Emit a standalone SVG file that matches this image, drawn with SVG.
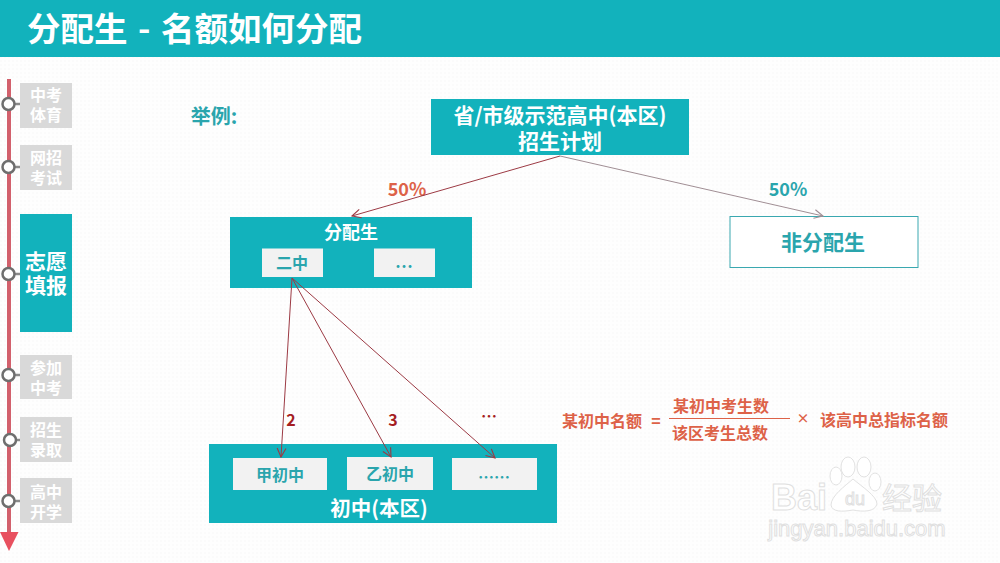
<svg xmlns="http://www.w3.org/2000/svg" width="1000" height="563" viewBox="0 0 1000 563">
<style>
text{font-family:"Noto Sans CJK SC","Liberation Sans",sans-serif;font-weight:700;text-anchor:middle}
.teal{fill:#12b2bc}
.side{fill:#d9d9d9}
.st{fill:#fff;font-size:16px}
.inner{fill:#f2f2f2}
.tt{fill:#2aa5ad}
.or{fill:#dd6248}
.f{font-size:16px}
.dot{fill:#fff;stroke:#6e6e6e;stroke-width:2.5}
.stub{stroke:#8a8a8a;stroke-width:2.5}
.red{stroke:#9c3a44;stroke-width:1;fill:none;marker-end:url(#ar)}
.gr{stroke:#a08e94;stroke-width:1;fill:none;marker-end:url(#ag)}
.wm{fill:#fff;stroke:#e2e2e2;stroke-width:1}
text.wmt{fill:#fff;stroke:#e0e0e0;stroke-width:1;font-family:"Liberation Sans",sans-serif;font-weight:400}
</style>
<defs>
<marker id="ar" viewBox="0 0 10 10" refX="9" refY="5" markerWidth="11" markerHeight="11" orient="auto" markerUnits="userSpaceOnUse"><path d="M1 1L9 5L1 9" fill="none" stroke="#9c3a44" stroke-width="1"/></marker>
<marker id="ag" viewBox="0 0 10 10" refX="9" refY="5" markerWidth="11" markerHeight="11" orient="auto" markerUnits="userSpaceOnUse"><path d="M1 1L9 5L1 9" fill="none" stroke="#a08e94" stroke-width="1"/></marker>
<pattern id="bg" width="4" height="4" patternUnits="userSpaceOnUse"><rect width="4" height="4" fill="#fefefe"/><rect width="2" height="2" fill="#fbfbfb"/></pattern>
</defs>
<rect width="1000" height="563" fill="url(#bg)"/>
<g id="header"><rect class="teal" width="1000" height="57"/><text y="41" fill="#fff" font-size="33.500" style="text-anchor:start"><tspan x="27">分配生</tspan><tspan x="138">-</tspan><tspan x="161">名额如何分配</tspan></text></g>

<g id="timeline">
<rect x="7" y="79" width="4" height="455" fill="#d2606c"/>
<path d="M0 532H18.500L9 551Z" fill="#e8505f"/>
</g>
<g id="s1"><rect class="side" x="20" y="83" width="52" height="45"/><line class="stub" x1="14" y1="104" x2="20" y2="104"/><circle class="dot" cx="8.500" cy="104" r="6"/><text class="st"><tspan x="46" y="101">中考</tspan><tspan x="46" y="121">体育</tspan></text></g>
<g id="s2"><rect class="side" x="20" y="145" width="52" height="45"/><line class="stub" x1="14" y1="167" x2="20" y2="167"/><circle class="dot" cx="8.500" cy="167" r="6"/><text class="st"><tspan x="46" y="164">网招</tspan><tspan x="46" y="184">考试</tspan></text></g>
<g id="s3"><rect class="teal" x="20" y="214" width="52" height="118"/><line class="stub" x1="14" y1="274" x2="20" y2="274"/><circle class="dot" cx="8.500" cy="274" r="6"/><text fill="#fff" font-size="21"><tspan x="46" y="269">志愿</tspan><tspan x="46" y="293">填报</tspan></text></g>
<g id="s4"><rect class="side" x="20" y="355" width="52" height="44"/><line class="stub" x1="14" y1="375" x2="20" y2="375"/><circle class="dot" cx="8.500" cy="375" r="6"/><text class="st"><tspan x="46" y="374">参加</tspan><tspan x="46" y="394">中考</tspan></text></g>
<g id="s5"><rect class="side" x="20" y="417" width="52" height="45"/><line class="stub" x1="15" y1="440" x2="20" y2="440"/><circle class="dot" cx="10" cy="440" r="6"/><text class="st"><tspan x="46" y="436">招生</tspan><tspan x="46" y="456">录取</tspan></text></g>
<g id="s6"><rect class="side" x="20" y="478" width="52" height="45"/><line class="stub" x1="14" y1="501" x2="20" y2="501"/><circle class="dot" cx="8.500" cy="501" r="6"/><text class="st"><tspan x="46" y="498">高中</tspan><tspan x="46" y="518">开学</tspan></text></g>

<g id="example"><text class="tt" x="214" y="124" font-size="20">举例:</text></g>

<g id="top"><rect class="teal" x="431" y="99" width="258" height="56"/><text fill="#fff" font-size="21"><tspan x="560" y="123">省/市级示范高中(本区)</tspan><tspan x="560" y="149">招生计划</tspan></text></g>
<g id="l50"><text class="or" x="407" y="196" font-size="18">50%</text></g>
<g id="r50"><text class="tt" x="788" y="196" font-size="18">50%</text></g>
<g id="fp"><rect class="teal" x="230" y="217" width="242" height="71"/><text x="351" y="239" fill="#fff" font-size="18">分配生</text>
<rect class="inner" x="262" y="248.500" width="61" height="28.500"/><text class="tt" x="292" y="269" font-size="16">二中</text>
<rect class="inner" x="374" y="248.500" width="61" height="28.500"/><text class="tt" x="404" y="273" font-size="18">…</text></g>
<g id="nonfp"><rect x="730" y="216.500" width="188" height="51" fill="#fff" stroke="#3aa8b0" stroke-width="1"/><text class="tt" x="823" y="250" font-size="21">非分配生</text></g>

<g id="n2"><text x="291" y="426" fill="#a51e22" font-size="16">2</text></g>
<g id="n3"><text x="393" y="426" fill="#a51e22" font-size="16">3</text></g>
<g id="ndots"><text x="489" y="422" fill="#a51e22" font-size="16">…</text></g>

<g id="junior"><rect class="teal" x="209" y="444" width="348" height="79"/>
<rect class="inner" x="233" y="458" width="94" height="32"/><text class="tt" x="280" y="481" font-size="16">甲初中</text>
<rect class="inner" x="347" y="457" width="86" height="33"/><text class="tt" x="390" y="480" font-size="16">乙初中</text>
<rect class="inner" x="452" y="458" width="85" height="32"/><text class="tt" x="494" y="483" font-size="16">……</text>
<text x="379" y="516" fill="#fff" font-size="20.500">初中(本区)</text></g>

<g id="connectors">
<line class="red" x1="560" y1="156" x2="352" y2="216"/>
<line class="gr" x1="560" y1="156" x2="823" y2="216"/>
<line class="red" x1="292" y1="278" x2="281" y2="457"/>
<line class="red" x1="292" y1="278" x2="391" y2="457"/>
<line class="red" x1="292" y1="278" x2="495" y2="458"/>
</g>

<g id="formula">
<text class="or f" x="602" y="427">某初中名额</text>
<text class="or f" x="656" y="427">=</text>
<text class="or f" x="721" y="412">某初中考生数</text>
<line x1="669" y1="418.500" x2="790" y2="418.500" stroke="#dd6248" stroke-width="1"/>
<text class="or f" x="720" y="439">该区考生总数</text>
<text class="or" x="803" y="423" font-size="13">×</text>
<text class="or f" x="884" y="426">该高中总指标名额</text>
</g>

<g id="watermark">
<ellipse cx="848" cy="467" rx="7" ry="10" class="wm"/><ellipse cx="864" cy="467" rx="7" ry="10" class="wm"/><ellipse cx="836" cy="476" rx="6" ry="9" class="wm"/><ellipse cx="875" cy="482" rx="6" ry="9" class="wm"/>
<path d="M853 479C845 486 831 496 831 505C832 512 842 512 853 510C863 512 875 512 877 504C877 496 861 486 853 479Z" class="wm"/>
<text class="wmt" x="799" y="510" font-size="36" style="font-weight:700">Bai</text>
<text class="wmt" x="855" y="505" font-size="18">du</text>
<text class="wmt" x="912" y="509" font-size="30" style="font-family:'Noto Sans CJK SC',sans-serif">经验</text>
<text class="wmt" x="857" y="536" font-size="22">jingyan.baidu.com</text>
</g>
</svg>
